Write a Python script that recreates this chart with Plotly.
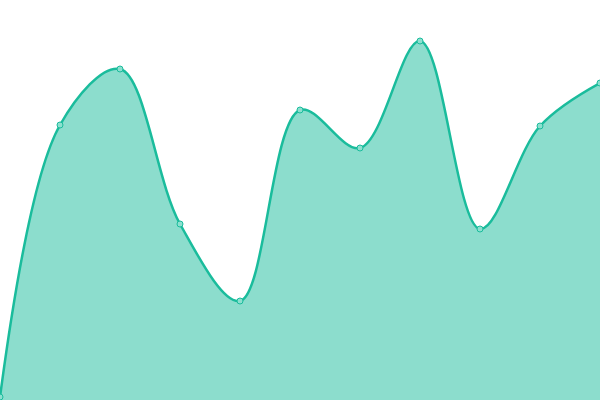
import plotly.graph_objects as go

x_vals = [0, 60, 120, 180, 240, 300, 360, 420, 480, 540, 600]
y_vals = [3, 275, 331, 176, 99, 290, 252, 359, 171, 274, 317]

fig = go.Figure()
fig.add_trace(go.Scatter(
    x=x_vals, y=y_vals, mode="lines+markers",
    line=dict(color="#1abc9c", width=2.5, shape="spline", smoothing=1.0),
    fill="tozeroy", fillcolor="rgba(26,188,156,0.5)",
    marker=dict(size=6, color="#8ce0cf", line=dict(color="#1abc9c", width=1)),
    cliponaxis=False, hoverinfo="skip",
))
fig.update_layout(
    width=600, height=400, margin=dict(l=0, r=0, t=0, b=0),
    paper_bgcolor="white", plot_bgcolor="white", showlegend=False,
    xaxis=dict(range=[0, 600], visible=False, fixedrange=True),
    yaxis=dict(range=[0, 400], visible=False, fixedrange=True),
)
fig.write_html(
    "out.html",
    config={"displayModeBar": False},
    post_script="document.body.style.margin='0';document.body.style.overflow='hidden';",
)
